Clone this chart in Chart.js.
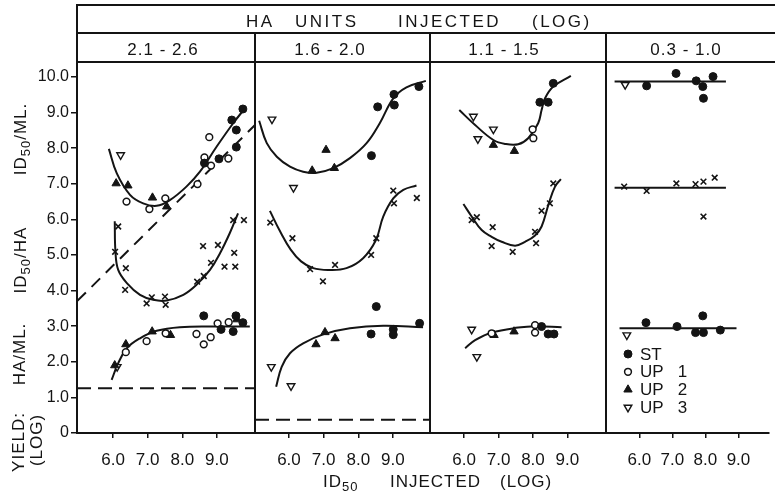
<!DOCTYPE html>
<html><head><meta charset="utf-8">
<script src="https://cdn.jsdelivr.net/npm/chart.js@4.4.1/dist/chart.umd.min.js"></script>
<style>
html,body{margin:0;padding:0;background:#fff;}
#wrap{position:relative;width:775px;height:499px;overflow:hidden;background:#fff;font-family:"Liberation Sans",Arial,sans-serif;color:#141414;}
canvas{position:absolute;left:0;top:0;}
.ln{position:absolute;background:#141414;}
.t{position:absolute;white-space:nowrap;font-size:17px;line-height:1;}
.rot{position:absolute;white-space:nowrap;font-size:17px;line-height:1;letter-spacing:1px;transform:translate(-50%,-50%) rotate(-90deg);}
sub{font-size:13px;vertical-align:-4px;line-height:0;}
</style></head><body>
<div id="wrap">
  <canvas id="c1" width="775" height="499"></canvas>
  <canvas id="c2" width="775" height="499"></canvas>
  <canvas id="c3" width="775" height="499"></canvas>
  <canvas id="c4" width="775" height="499"></canvas>
  <div id="frame"></div>
  <div class="t" style="left:246px;top:13px;letter-spacing:2.5px">HA</div>
  <div class="t" style="left:295px;top:13px;letter-spacing:2.5px">UNITS</div>
  <div class="t" style="left:398px;top:13px;letter-spacing:2.5px">INJECTED</div>
  <div class="t" style="left:532px;top:13px;letter-spacing:2.5px">(LOG)</div>
  <div id="titles"></div>
  <div class="rot" style="left:20px;top:139px">ID<sub>50</sub>/ML.</div>
  <div class="rot" style="left:20px;top:260px">ID<sub>50</sub>/HA</div>
  <div class="rot" style="left:19px;top:354px">HA/ML.</div>
  <div class="rot" style="left:18px;top:442px">YIELD:</div>
  <div class="rot" style="left:36px;top:440px">(LOG)</div>
  <div class="t" style="left:323px;top:473px;letter-spacing:1px">ID<sub>50</sub></div>
  <div class="t" style="left:390px;top:473px;letter-spacing:1px">INJECTED</div>
  <div class="t" style="left:500px;top:473px;letter-spacing:1px">(LOG)</div>
</div>
<script>
// ---------------- data ----------------
const xTickValues = [6, 7, 8, 9];
const xTickLabels = ['6.0', '7.0', '8.0', '9.0'];
const yTickValues = [0, 1, 2, 3, 4, 5, 6, 7, 8, 9, 10];
const yTickLabels = ['0', '1.0', '2.0', '3.0', '4.0', '5.0', '6.0', '7.0', '8.0', '9.0', '10.0'];
const panelTitles = ['2.1 - 2.6', '1.6 - 2.0', '1.1 - 1.5', '0.3 - 1.0'];
const legendLabels = ['ST', 'UP   1', 'UP   2', 'UP   3'];

// Panel 1 : HA 2.1 - 2.6
const p1ST  = [[8.64,7.58],[9.06,7.70],[9.56,8.03],[9.56,8.51],[9.43,8.79],[9.75,9.10],
               [8.62,3.29],[9.12,2.91],[9.47,2.85],[9.55,3.29],[9.75,3.10]];
const p1UP1 = [[6.39,6.50],[7.05,6.29],[7.51,6.59],[8.44,6.99],[8.64,7.74],[8.83,7.51],[8.78,8.31],[9.33,7.71],
               [6.37,2.27],[6.97,2.58],[7.52,2.80],[8.41,2.78],[8.62,2.49],[8.82,2.69],[9.02,3.08],[9.34,3.11]];
const p1UP2 = [[6.09,7.01],[6.43,6.95],[7.14,6.61],[7.55,6.36],
               [6.05,1.90],[6.37,2.49],[7.13,2.85],[7.66,2.75],[9.58,3.19]];
const p1UP3 = [[6.22,7.81],[6.12,1.86]];
const p1X   = [[6.15,5.80],[6.06,5.09],[6.37,4.63],[6.35,4.02],[6.97,3.64],[7.12,3.81],[7.50,3.83],[7.52,3.60],
               [8.43,4.25],[8.62,4.41],[8.83,4.78],[8.60,5.25],[9.03,5.28],[9.22,4.67],[9.53,4.67],[9.50,5.06],
               [9.47,5.98],[9.78,5.98]];
const p1FitMl = [[5.88,7.98],[6.11,7.29],[6.49,6.69],[6.87,6.45],[7.26,6.38],[7.64,6.54],[8.12,6.92],[8.51,7.34],[8.99,8.04],[9.47,8.70],[9.81,9.12]];
const p1FitHa = [[6.05,5.95],[6.07,5.10],[6.15,4.58],[6.40,4.21],[6.78,3.88],[7.16,3.74],[7.55,3.72],[8.03,3.88],[8.41,4.16],[8.80,4.58],[9.09,5.05],[9.37,5.61],[9.61,6.17]];
const p1FitHaMl = [[5.96,1.49],[6.15,1.96],[6.40,2.38],[6.78,2.66],[7.26,2.87],[7.93,2.97],[8.89,2.99],[9.95,2.99]];
const p1Diag = [[4.97,3.71],[10.1,8.65]];
const p1Base = [[4.96,1.26],[10.1,1.26]];

// Panel 2 : HA 1.6 - 2.0
const p2ST  = [[8.38,7.79],[8.56,9.16],[9.03,9.51],[9.04,9.21],[9.75,9.73],
               [8.52,3.55],[8.37,2.78],[9.01,2.91],[9.01,2.76],[9.77,3.08]];
const p2UP2 = [[7.07,7.95],[6.67,7.37],[7.31,7.44],[6.78,2.49],[7.04,2.83],[7.33,2.66]];
const p2UP3 = [[5.51,8.81],[6.13,6.89],[5.49,1.86],[6.06,1.32]];
const p2X   = [[9.01,6.81],[9.69,6.60],[9.03,6.45],[5.46,5.91],[6.10,5.47],[8.52,5.47],[6.61,4.60],[7.33,4.72],[6.98,4.26],[8.37,5.00]];
const p2FitMl = [[5.14,8.77],[5.36,8.14],[5.65,7.76],[6.03,7.48],[6.41,7.34],[6.80,7.31],[7.28,7.44],[7.76,7.72],[8.24,8.14],[8.62,8.70],[9.01,9.40],[9.39,9.71],[9.95,9.89]];
const p2FitHa = [[5.45,6.24],[5.75,5.65],[6.05,5.15],[6.35,4.82],[6.70,4.63],[7.13,4.58],[7.66,4.63],[8.14,4.91],[8.51,5.42],[8.72,6.08],[9.01,6.59],[9.30,6.83],[9.68,6.95]];
const p2FitHaMl = [[5.63,1.30],[5.79,1.86],[6.03,2.24],[6.41,2.52],[6.99,2.77],[7.76,2.94],[8.72,3.01],[9.87,2.97]];
const p2Base = [[5.02,0.37],[10.07,0.37]];

// Panel 3 : HA 1.1 - 1.5
const p3ST  = [[8.20,9.29],[8.44,9.29],[8.59,9.82],[8.25,2.99],[8.44,2.78],[8.61,2.78]];
const p3UP1 = [[7.99,8.53],[8.01,8.28],[6.80,2.80],[8.06,3.03],[8.06,2.82]];
const p3UP2 = [[6.85,8.09],[7.46,7.92],[6.87,2.75],[7.45,2.85]];
const p3UP3 = [[6.27,8.89],[6.85,8.53],[6.40,8.26],[6.22,2.91],[6.37,2.14]];
const p3X   = [[8.59,7.01],[8.49,6.45],[8.25,6.24],[6.22,5.98],[6.37,6.06],[6.83,5.78],[6.80,5.25],[7.41,5.09],[8.06,5.65],[8.09,5.33]];
const p3FitMl = [[5.86,9.07],[6.32,8.65],[6.85,8.23],[7.19,8.12],[7.57,8.11],[7.86,8.28],[8.15,8.70],[8.25,9.07],[8.35,9.40],[8.59,9.73],[9.10,10.03]];
const p3FitHa = [[5.98,6.43],[6.22,6.08],[6.51,5.70],[6.80,5.51],[7.09,5.37],[7.48,5.26],[7.77,5.37],[8.06,5.55],[8.25,5.80],[8.46,6.45],[8.64,6.92],[8.81,7.13]];
const p3FitHaMl = [[6.03,2.38],[6.32,2.61],[6.80,2.82],[7.57,2.96],[8.06,3.00],[8.83,2.97]];

// Panel 4 : HA 0.3 - 1.0
const p4ST  = [[6.22,9.75],[7.11,10.10],[7.72,9.89],[7.92,9.73],[7.94,9.40],[8.23,10.01],
               [6.20,3.10],[7.14,2.99],[7.92,3.29],[7.70,2.82],[7.94,2.82],[8.45,2.89]];
const p4UP3 = [[5.57,9.78],[5.62,2.75]];
const p4X   = [[5.54,6.92],[6.22,6.80],[7.12,7.01],[7.70,6.99],[7.94,7.06],[8.28,7.17],[7.94,6.08]];
const p4FitMl = [[5.25,9.87],[8.62,9.87]];
const p4FitHa = [[5.25,6.89],[8.62,6.89]];
const p4FitHaMl = [[5.40,2.94],[8.94,2.94]];

// ---------------- drawing ----------------
const ink = '#141414';
const FONT = '"Liberation Sans", Arial, sans-serif';
const toXY = a => a.map(p => ({x: p[0], y: p[1]}));
const markerStyles = {
  ST:  {pointStyle: 'circle',   pointRadius: 4,   pointRotation: 0,   backgroundColor: ink,    borderColor: ink, borderWidth: 1},
  UP1: {pointStyle: 'circle',   pointRadius: 3.4, pointRotation: 0,   backgroundColor: '#fff', borderColor: ink, borderWidth: 1.5},
  UP2: {pointStyle: 'triangle', pointRadius: 4.8, pointRotation: 0,   backgroundColor: ink,    borderColor: ink, borderWidth: 1},
  UP3: {pointStyle: 'triangle', pointRadius: 4.4, pointRotation: 180, backgroundColor: '#fff', borderColor: ink, borderWidth: 1.4},
  X:   {pointStyle: 'crossRot', pointRadius: 4,   pointRotation: 0,   backgroundColor: ink,    borderColor: ink, borderWidth: 1.6}
};
function marks(label, data, key) {
  const s = markerStyles[key];
  return Object.assign({type: 'scatter', label: label, data: toXY(data), showLine: false, order: 1,
    pointHoverRadius: s.pointRadius}, s);
}
function fit(label, data) {
  return {type: 'line', label: label, data: toXY(data), borderColor: ink, borderWidth: 2,
    pointRadius: 0, pointHoverRadius: 0, tension: 0.4, fill: false, order: 2};
}
function dashed(label, data, dash) {
  return {type: 'line', label: label, data: toXY(data), borderColor: ink, borderWidth: 2,
    borderDash: dash, pointRadius: 0, pointHoverRadius: 0, tension: 0, fill: false, order: 2};
}

const keyPlugin = {
  id: 'symbolKey',
  afterDraw(chart) {
    const {ctx, chartArea} = chart;
    const keys = ['ST', 'UP1', 'UP2', 'UP3'];
    ctx.save();
    keys.forEach((k, i) => {
      const s = markerStyles[k];
      const x = chartArea.left + 22, y = chartArea.top + 292 + i * 17.8;
      ctx.fillStyle = s.backgroundColor; ctx.strokeStyle = s.borderColor; ctx.lineWidth = s.borderWidth;
      if (Chart.helpers && Chart.helpers.drawPoint) {
        Chart.helpers.drawPoint(ctx, {pointStyle: s.pointStyle, radius: s.pointRadius,
          rotation: s.pointRotation, borderWidth: s.borderWidth}, x, y);
      }
      ctx.fillStyle = ink; ctx.font = '17px ' + FONT;
      ctx.textBaseline = 'middle'; ctx.textAlign = 'left';
      ctx.fillText(legendLabels[i], x + 12, y + 1);
    });
    ctx.restore();
  }
};

function makeChart(id, datasets, left, right, xMin, xMax, showY, plugins) {
  return new Chart(document.getElementById(id), {
    type: 'scatter',
    data: {datasets: datasets},
    options: {
      responsive: false, animation: false, devicePixelRatio: 1, events: [],
      layout: {padding: {left: showY ? left - 77 : left, right: 775 - right, top: 62, bottom: 0}},
      plugins: {legend: {display: false}, tooltip: {enabled: false}},
      scales: {
        x: {
          type: 'linear', position: 'bottom', min: xMin, max: xMax,
          afterBuildTicks: s => { s.ticks = xTickValues.map(v => ({value: v})); },
          afterFit: s => { s.height = 66; s.paddingLeft = 0; s.paddingRight = 0; },
          grid: {display: true, drawOnChartArea: false, drawTicks: true, tickLength: 5, color: ink, lineWidth: 1.5},
          border: {display: true, color: ink, width: 2},
          ticks: {color: ink, padding: 12, maxRotation: 0, autoSkip: false, font: {family: FONT, size: 17},
            callback: v => xTickLabels[xTickValues.indexOf(v)]}
        },
        y: {
          type: 'linear', position: 'left', min: 0, max: 10.42,
          afterBuildTicks: s => { s.ticks = yTickValues.map(v => ({value: v})); },
          afterFit: s => { s.width = showY ? 77 : 0; s.paddingTop = 0; s.paddingBottom = 0; },
          grid: {display: showY, drawOnChartArea: false, drawTicks: true, tickLength: 6, color: ink, lineWidth: 1.5},
          border: {display: true, color: ink, width: 2},
          ticks: {display: showY, color: ink, padding: 2, autoSkip: false, font: {family: FONT, size: 16},
            callback: v => yTickLabels[yTickValues.indexOf(v)]}
        }
      }
    },
    plugins: plugins || []
  });
}

makeChart('c1', [
  marks('ST', p1ST, 'ST'), marks('UP 1', p1UP1, 'UP1'), marks('UP 2', p1UP2, 'UP2'), marks('UP 3', p1UP3, 'UP3'),
  marks('ID50/HA', p1X, 'X'),
  fit('ID50/ML fit', p1FitMl), fit('ID50/HA fit', p1FitHa), fit('HA/ML fit', p1FitHaMl),
  dashed('diagonal', p1Diag, [12, 8]), dashed('baseline', p1Base, [14, 7])
], 77, 255, 4.96, 10.1, true);

makeChart('c2', [
  marks('ST', p2ST, 'ST'), marks('UP 2', p2UP2, 'UP2'), marks('UP 3', p2UP3, 'UP3'),
  marks('ID50/HA', p2X, 'X'),
  fit('ID50/ML fit', p2FitMl), fit('ID50/HA fit', p2FitHa), fit('HA/ML fit', p2FitHaMl),
  dashed('baseline', p2Base, [14, 7])
], 255, 430, 5.02, 10.07, false);

makeChart('c3', [
  marks('ST', p3ST, 'ST'), marks('UP 1', p3UP1, 'UP1'), marks('UP 2', p3UP2, 'UP2'), marks('UP 3', p3UP3, 'UP3'),
  marks('ID50/HA', p3X, 'X'),
  fit('ID50/ML fit', p3FitMl), fit('ID50/HA fit', p3FitHa), fit('HA/ML fit', p3FitHaMl)
], 430, 606, 5.01, 10.12, false);

makeChart('c4', [
  marks('ST', p4ST, 'ST'), marks('UP 3', p4UP3, 'UP3'),
  marks('ID50/HA', p4X, 'X'),
  fit('ID50/ML fit', p4FitMl), fit('ID50/HA fit', p4FitHa), fit('HA/ML fit', p4FitHaMl)
], 606, 775, 4.99, 9.93, false, [keyPlugin]);

// header frame and panel titles
(function () {
  const frame = document.getElementById('frame');
  const lines = [
    [76, 4, 699, 2], [76, 32, 699, 2], [76, 61, 699, 2], [76, 4, 2, 58],
    [254, 32, 2, 30], [429, 32, 2, 30], [605, 32, 2, 30]
  ];
  lines.forEach(l => {
    const d = document.createElement('div');
    d.className = 'ln';
    d.style.left = l[0] + 'px'; d.style.top = l[1] + 'px';
    d.style.width = l[2] + 'px'; d.style.height = l[3] + 'px';
    frame.appendChild(d);
  });
  const centers = [163, 330, 504, 686];
  const titles = document.getElementById('titles');
  panelTitles.forEach((t, i) => {
    const d = document.createElement('div');
    d.className = 't';
    d.textContent = t;
    d.style.left = (centers[i] - 60) + 'px'; d.style.width = '120px';
    d.style.textAlign = 'center'; d.style.top = '41px'; d.style.letterSpacing = '1px';
    d.style.whiteSpace = 'pre';
    titles.appendChild(d);
  });
})();
</script>
</body></html>
